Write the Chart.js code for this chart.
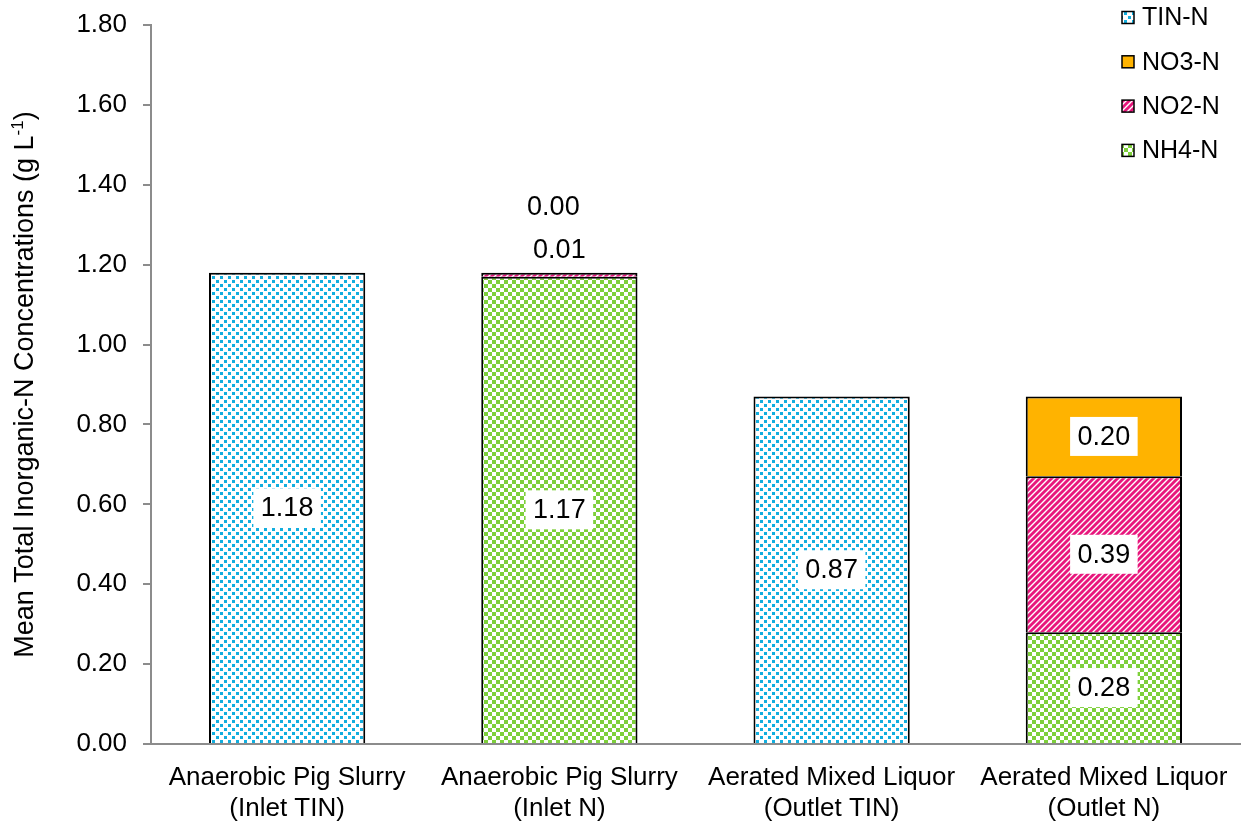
<!DOCTYPE html>
<html>
<head>
<meta charset="utf-8">
<script src="https://cdn.jsdelivr.net/npm/chart.js@4.4.1/dist/chart.umd.min.js"></script>
<style>
  html, body { margin: 0; padding: 0; background: #ffffff; }
  canvas { display: block; }
</style>
</head>
<body>
<canvas id="chart" width="1242" height="822"></canvas>
<script>
// Categories (two-line labels) and stacked series values, g L-1
const categories = [
  ['Anaerobic Pig Slurry', '(Inlet TIN)'],
  ['Anaerobic Pig Slurry', '(Inlet N)'],
  ['Aerated Mixed Liquor', '(Outlet TIN)'],
  ['Aerated Mixed Liquor', '(Outlet N)']
];
const nh4Values = [null, 1.17, null, 0.28];
const no2Values = [null, 0.01, null, 0.39];
const no3Values = [null, 0.00, null, 0.20];
const tinValues = [1.18, null, 0.87, null];
const seriesNames = ['NH4-N', 'NO2-N', 'NO3-N', 'TIN-N'];
const yTickValues = [0, 0.2, 0.4, 0.6, 0.8, 1.0, 1.2, 1.4, 1.6, 1.8];
const yTitleParts = ['Mean Total Inorganic-N Concentrations (g L', '-1', ')'];

const FONT = '"Liberation Sans", Arial, sans-serif';
const AXIS_GREY = '#8C8C8C';

const canvas = document.getElementById('chart');
const mainCtx = canvas.getContext('2d');

// Small repeating tiles used as bar fills
function makePattern(w, h, paint) {
  const c = document.createElement('canvas');
  c.width = w; c.height = h;
  const g = c.getContext('2d');
  g.fillStyle = '#ffffff';
  g.fillRect(0, 0, w, h);
  paint(g, w, h);
  return mainCtx.createPattern(c, 'repeat');
}

// dotted blue squares on white
const tinFill = makePattern(8, 8, g => {
  g.fillStyle = '#12AEDF';
  g.fillRect(0, 0, 3, 3);
  g.fillRect(4, 4, 3, 3);
});
// green checkerboard
const nh4Fill = makePattern(8, 8, g => {
  g.fillStyle = '#7ED03B';
  g.fillRect(0, 0, 4, 4);
  g.fillRect(4, 4, 4, 4);
});
// pink upward diagonal stripes
const no2Fill = makePattern(6, 6, g => {
  g.strokeStyle = '#E8177D';
  g.lineWidth = 2.9;
  [0, 6, 12].forEach(s => {
    g.beginPath();
    g.moveTo(-2, s + 2);
    g.lineTo(s + 2, -2);
    g.stroke();
  });
});
const no3Fill = '#FFB300';

const fills = [nh4Fill, no2Fill, no3Fill, tinFill];
const seriesData = [nh4Values, no2Values, no3Values, tinValues];

const datasets = seriesNames.map((name, i) => ({
  label: name,
  data: seriesData[i],
  backgroundColor: fills[i],
  borderColor: '#000000',
  borderWidth: 2,
  borderSkipped: 'start',
  stack: 'n',
  barPercentage: 0.574,
  categoryPercentage: 1.0
}));

// Value labels: white boxes centred in each segment; thin segments get their
// labels stacked above the bar top.
const valueLabels = {
  id: 'valueLabels',
  afterDatasetsDraw(chart) {
    const ctx = chart.ctx;
    ctx.save();
    ctx.font = '27px ' + FONT;
    ctx.textAlign = 'center';
    ctx.textBaseline = 'middle';
    const above = {};
    chart.data.datasets.forEach((ds, di) => {
      const meta = chart.getDatasetMeta(di);
      meta.data.forEach((bar, idx) => {
        const v = ds.data[idx];
        if (v === null || v === undefined) return;
        const text = v.toFixed(2);
        const top = Math.min(bar.y, bar.base);
        const h = Math.abs(bar.base - bar.y);
        let cx = bar.x, cy;
        let boxed = true;
        if (h >= 30) {
          cy = top + h / 2;
        } else {
          const n = above[idx] || 0;
          above[idx] = n + 1;
          // top of the whole stack
          const yTop = chart.scales.y.getPixelForValue(
            chart.data.datasets.reduce((s, d) => s + (d.data[idx] || 0), 0));
          cy = yTop - 23 - 43 * n;
          cx -= 6 * n;
          boxed = false;
        }
        const tw = ctx.measureText(text).width;
        if (boxed) {
          ctx.fillStyle = '#ffffff';
          ctx.fillRect(cx - tw / 2 - 7.5, cy - 19.5, tw + 15, 39);
        }
        ctx.fillStyle = '#000000';
        ctx.fillText(text, cx, cy + 1);
      });
    });
    ctx.restore();
  }
};

// Rotated y-axis title with superscript exponent
const yAxisTitle = {
  id: 'yAxisTitle',
  afterDraw(chart) {
    const ctx = chart.ctx;
    const area = chart.chartArea;
    const mainFont = '27px ' + FONT;
    const supFont = '17px ' + FONT;
    ctx.save();
    ctx.font = mainFont;
    const w0 = ctx.measureText(yTitleParts[0]).width;
    const w2 = ctx.measureText(yTitleParts[2]).width;
    ctx.font = supFont;
    const w1 = ctx.measureText(yTitleParts[1]).width;
    const total = w0 + w1 + w2;
    ctx.translate(33, (area.top + area.bottom) / 2);
    ctx.rotate(-Math.PI / 2);
    ctx.fillStyle = '#000000';
    ctx.textBaseline = 'alphabetic';
    ctx.textAlign = 'left';
    let x = -total / 2;
    ctx.font = mainFont;
    ctx.fillText(yTitleParts[0], x, 0);
    x += w0;
    ctx.font = supFont;
    ctx.fillText(yTitleParts[1], x, -10);
    x += w1;
    ctx.font = mainFont;
    ctx.fillText(yTitleParts[2], x, 0);
    ctx.restore();
  }
};

// Legend in the top-right corner, listed in reverse stacking order
const cornerLegend = {
  id: 'cornerLegend',
  afterDraw(chart) {
    const ctx = chart.ctx;
    const items = chart.data.datasets.slice().reverse();
    ctx.save();
    ctx.font = '25px ' + FONT;
    ctx.textBaseline = 'middle';
    ctx.textAlign = 'left';
    items.forEach((ds, i) => {
      const cy = 17.5 + i * 44.3;
      ctx.fillStyle = ds.backgroundColor;
      ctx.fillRect(1122, cy - 6, 12, 12);
      ctx.strokeStyle = '#000000';
      ctx.lineWidth = 1.5;
      ctx.strokeRect(1122, cy - 6, 12, 12);
      ctx.fillStyle = '#000000';
      ctx.fillText(ds.label, 1142, cy + 1);
    });
    ctx.restore();
  }
};

new Chart(canvas, {
  type: 'bar',
  data: { labels: categories, datasets },
  plugins: [valueLabels, yAxisTitle, cornerLegend],
  options: {
    responsive: false,
    animation: false,
    layout: { padding: { top: 25, right: 2, bottom: 0, left: 0 } },
    plugins: {
      legend: { display: false },
      tooltip: { enabled: false },
      title: { display: false }
    },
    scales: {
      x: {
        stacked: true,
        z: 1,
        grid: { display: false },
        border: { display: true, color: AXIS_GREY, width: 2 },
        ticks: {
          color: '#000000',
          font: { family: FONT, size: 26, lineHeight: 1.19 },
          padding: 10,
          maxRotation: 0,
          autoSkip: false
        },
        afterFit(scale) { scale.height = 78; }
      },
      y: {
        stacked: true,
        min: 0,
        max: 1.8,
        grid: {
          display: true,
          drawOnChartArea: false,
          drawTicks: true,
          tickLength: 8,
          color: AXIS_GREY,
          lineWidth: 2
        },
        border: { display: true, color: AXIS_GREY, width: 2 },
        afterBuildTicks(scale) {
          scale.ticks = yTickValues.map(v => ({ value: v }));
        },
        ticks: {
          color: '#000000',
          font: { family: FONT, size: 26 },
          padding: 16,
          callback: v => Number(v).toFixed(2)
        },
        afterFit(scale) {
          scale.width = 151;
          scale.paddingTop = 0;
          scale.paddingBottom = 0;
        }
      }
    }
  }
});
</script>
</body>
</html>
